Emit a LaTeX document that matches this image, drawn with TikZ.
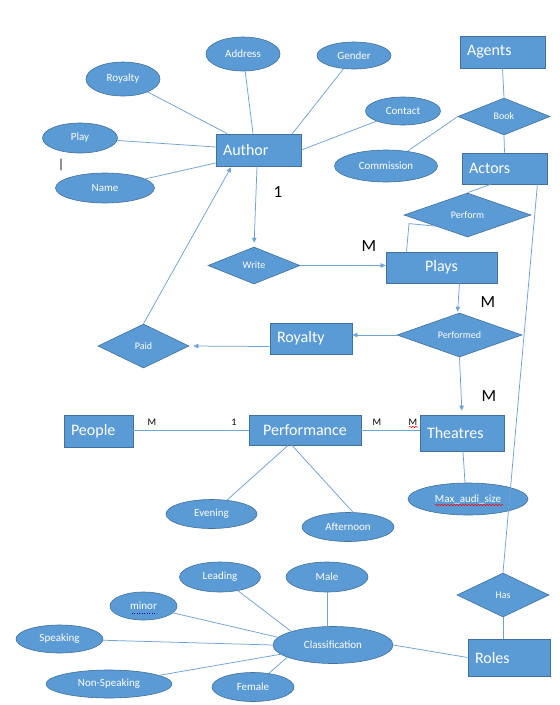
\documentclass[tikz,border=0pt]{standalone}
\usepackage{fontspec}
\setmainfont{Carlito}
\usetikzlibrary{shapes.geometric,arrows.meta,decorations.pathmorphing}
\definecolor{ofill}{HTML}{5B9BD5}
\definecolor{oedge}{HTML}{41719C}
\definecolor{oline}{HTML}{6FA3D6}
\begin{document}
\begin{tikzpicture}[x=1pt,y=-1pt,
  ent/.style={draw=oedge, line width=0.8pt, fill=ofill, text=white,
    font=\fontsize{16}{18}\selectfont, inner xsep=7pt, inner ysep=0pt, align=left},
  rel/.style={diamond, draw=oedge, line width=0.6pt, fill=ofill, text=white,
    font=\fontsize{10}{12}\selectfont, inner sep=0pt, aspect=2.5},
  attr/.style={ellipse, draw=oedge, line width=0.6pt, fill=ofill, text=white,
    font=\fontsize{11}{13}\selectfont, inner sep=0pt},
  conn/.style={draw=oline, line width=0.75pt},
  arr/.style={conn, -{Triangle[length=5pt,width=4.5pt]}},
  card/.style={font=\fontsize{17}{19}\selectfont, text=black, inner sep=0pt},
  cards/.style={font=\fontsize{10}{12}\selectfont, text=black, inner sep=0pt},
  squig/.style={draw=red, line width=0.5pt, decorate,
    decoration={snake, amplitude=0.7pt, segment length=3pt}}]
\useasboundingbox[fill=white] (0,0) rectangle (560,705);

% ---------- entities ----------
\node[ent, text width=71pt, minimum height=32pt] (author) at (258.5,150) {Author};
\node[ent, text width=71pt, minimum height=32pt] (agents) at (502.5,52) {Agents};
\node[ent, text width=71pt, minimum height=31pt] (actors) at (504.5,168.5) {Actors};
\node[ent, text width=97pt, minimum height=31pt, align=center] (plays) at (441.5,267.5) {Plays};
\node[ent, text width=68pt, minimum height=31pt] (royaltyE) at (311,338.5) {Royalty};
\node[ent, text width=55pt, minimum height=32pt] (people) at (98.5,431) {People};
\node[ent, text width=98pt, minimum height=30pt, align=center] (performance) at (305,430) {Performance};
\node[ent, text width=70pt, minimum height=36pt] (theatres) at (462,433) {Theatres};
\node[ent, text width=68pt, minimum height=37pt] (roles) at (509,657.5) {Roles};

% ---------- relationships ----------
\node[rel, minimum width=92pt, minimum height=37pt] (book) at (504,116.5) {Book};
\node[rel, minimum width=127pt, minimum height=44pt] (perform) at (467.5,215) {Perform};
\node[rel, minimum width=92pt, minimum height=37pt] (write) at (254,265.5) {Write};
\node[rel, minimum width=125pt, minimum height=44pt] (performed) at (459.5,335) {Performed};
\node[rel, minimum width=91pt, minimum height=44pt] (paid) at (143.5,346) {Paid};
\node[rel, minimum width=92pt, minimum height=44pt] (has) at (503,595) {Has};

% ---------- attributes ----------
\node[attr, minimum width=74pt, minimum height=34pt] (address) at (243,54) {Address};
\node[attr, minimum width=74pt, minimum height=27pt] (gender) at (354,55.5) {Gender};
\node[attr, minimum width=74pt, minimum height=34pt] (royaltyA) at (123,79) {Royalty};
\node[attr, minimum width=75pt, minimum height=28pt] (contact) at (403,111) {Contact};
\node[attr, minimum width=75pt, minimum height=30pt] (play) at (80,138) {Play};
\node[attr, minimum width=99pt, minimum height=30pt] (name) at (105,188) {Name};
\node[attr, minimum width=103pt, minimum height=32pt] (commission) at (386,166) {Commission};
\node[attr, minimum width=120pt, minimum height=32pt] (maxaudi) at (468,499) {Max\_audi\_size};
\node[attr, minimum width=91pt, minimum height=29pt] (evening) at (211.5,514) {Evening};
\node[attr, minimum width=92pt, minimum height=29pt] (afternoon) at (348,527) {Afternoon};
\node[attr, minimum width=81pt, minimum height=30pt] (leading) at (220,577) {Leading};
\node[attr, minimum width=82pt, minimum height=30pt] (male) at (327,577) {Male};
\node[attr, minimum width=67pt, minimum height=28pt] (minor) at (143.5,606) {minor};
\node[attr, minimum width=87pt, minimum height=28pt] (speaking) at (59.5,639) {Speaking};
\node[attr, minimum width=120pt, minimum height=37pt] (classification) at (333,645) {Classification};
\node[attr, minimum width=126pt, minimum height=28pt] (nonspeaking) at (109,684) {Non-Speaking};
\node[attr, minimum width=82pt, minimum height=29pt] (female) at (253,687) {Female};

% ---------- text marks ----------
\node[text=black, font=\fontsize{13}{13}\selectfont, inner sep=0pt] (cursor) at (61,165) {|};
\node[card] (c1) at (278,192) {1};
\node[card] (cM1) at (369,246) {M};
\node[card] (cM2) at (488,302) {M};
\node[card] (cM3) at (489,396) {M};
\node[cards] (s1) at (152,422) {M};
\node[cards] (s2) at (234,422) {1};
\node[cards] (s3) at (377,422) {M};
\node[cards] (s4) at (413,422) {M};
\draw[squig] ([shift={(-4,5)}]s4.center) -- ++(9,0);
\draw[squig] ([shift={(-33,6)}]maxaudi.center) -- ++(68,0);
\draw[draw=blue!70!black, line width=0.5pt, dotted] ([shift={(-12,7)}]minor.center) -- ++(25,0);

% ---------- author attributes ----------
\draw[conn] (address) -- ([xshift=-5.5pt]author.north);
\draw[conn] (royaltyA) -- (author);
\draw[conn] (gender) -- ([xshift=-9pt]author.north east);
\draw[conn] (contact) -- (author.east);
\draw[conn] (play) -- ([yshift=3pt]author.west);
\draw[conn] (name) -- ([yshift=-13pt]author.west);

% ---------- agents / actors ----------
\draw[conn] (agents.south) -- (book.north);
\draw[conn] (book.south) -- (actors.north);
\draw[conn] (commission) -- (book.west);
\draw[conn] ([xshift=-14pt]actors.south) -- (perform.north);
\draw[conn] ([xshift=-35pt]plays.north) -- ++(2.5,-28) -- (perform.south west);
\draw[conn] ([xshift=-10pt]actors.south east) -- (has.north);
\draw[conn] (has.south) -- (has.south |- roles.north);

% ---------- arrows ----------
\draw[arr, shorten >=4pt] ([xshift=-1.5pt]author.south) -- (write.north);
\draw[arr] (write.east) -- (plays.west |- write.east);
\draw[arr, shorten >=1pt] ([xshift=18pt]plays.south) -- ([xshift=-2pt]performed.north);
\draw[arr] (performed.west) -- (royaltyE.east |- performed.west);
\draw[arr, shorten >=4pt] ([yshift=-8pt]royaltyE.west) -- (paid.east);
\draw[arr, shorten >=1pt] (paid.north) -- ([xshift=-27pt]author.south);
\draw[arr, shorten >=4pt] (performed.south) -- (theatres.north);

% ---------- performance ----------
\draw[conn] (people.east |- performance.west) -- (performance.west);
\draw[conn] (performance.east) -- (theatres.west |- performance.east);
\draw[conn] ([xshift=1pt]theatres.south) -- ([xshift=-3pt]maxaudi.north);
\draw[conn] ([xshift=-17pt]performance.south) -- (evening);
\draw[conn] ([xshift=-13pt]performance.south) -- ([xshift=5pt]afternoon.north);

% ---------- classification ----------
\draw[conn] (leading) -- (classification.162);
\draw[conn] (male.south) -- (male.south |- classification.north);
\draw[conn] (minor) -- (classification.172);
\draw[conn] (speaking) -- (classification.180);
\draw[conn] (nonspeaking) -- (classification.190);
\draw[conn] (female) -- (classification.195);
\draw[conn] (classification.east) -- (roles.west);
\end{tikzpicture}
\end{document}
